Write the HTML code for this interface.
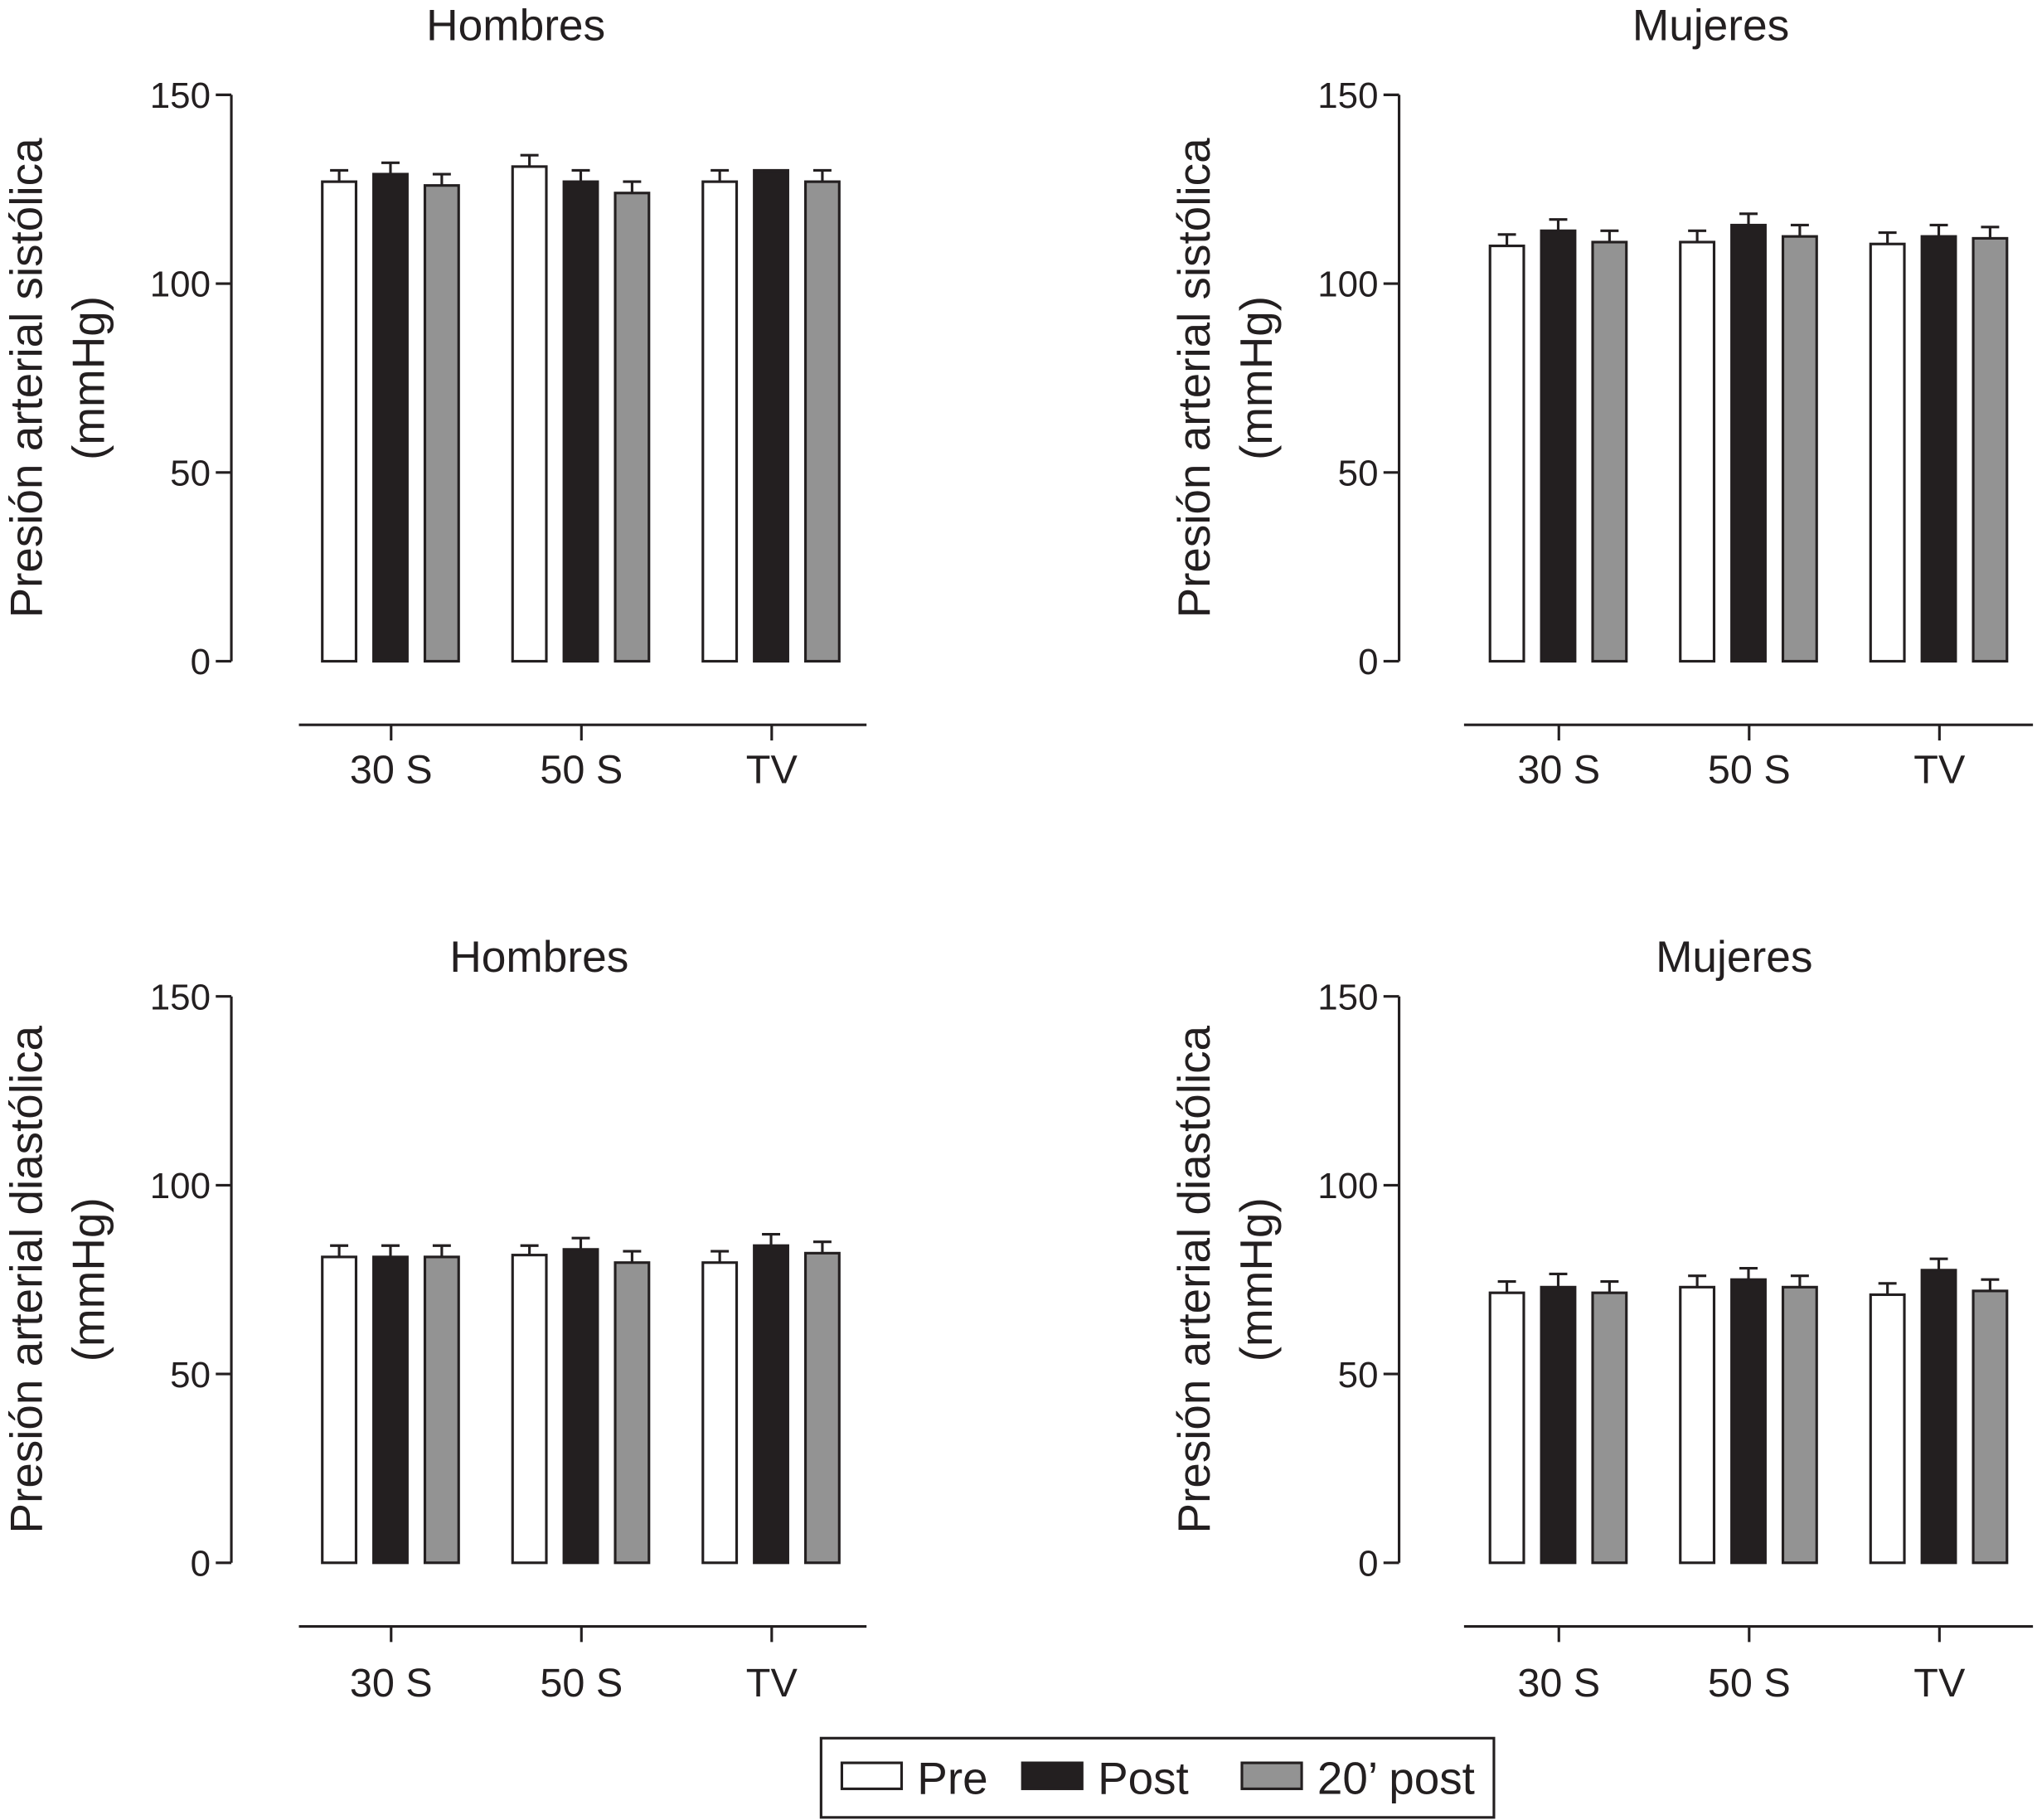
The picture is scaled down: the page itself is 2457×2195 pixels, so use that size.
<!DOCTYPE html>
<html><head><meta charset="utf-8"><style>
html,body{margin:0;padding:0;background:#fff}
svg{display:block}
text{font-family:"Liberation Sans",sans-serif;fill:#231f20}
</style></head><body>
<svg id="fig" width="2457" height="2195" viewBox="0 0 1568 1401" xmlns="http://www.w3.org/2000/svg"></svg>
<script>
const categories = ["30 S","50 S","TV"];
const seriesNames = ["Pre","Post","20’ post"];
const yTicks = [0,50,100,150];
const sysMenPre = [127,131,127], sysMenPost = [129,127,130], sysMen20 = [126,124,127];
const sysMenPreErr = [3,3,3], sysMenPostErr = [3,3,0], sysMen20Err = [3,3,3];
const sysWomPre = [110,111,110.5], sysWomPost = [114,115.5,112.5], sysWom20 = [111,112.5,112];
const sysWomPreErr = [3,3,3], sysWomPostErr = [3,3,3], sysWom20Err = [3,3,3];
const diaMenPre = [81,81.5,79.5], diaMenPost = [81,83,84], diaMen20 = [81,79.5,82];
const diaMenPreErr = [3,2.5,3], diaMenPostErr = [3,3,3], diaMen20Err = [3,3,3];
const diaWomPre = [71.5,73,71], diaWomPost = [73,75,77.5], diaWom20 = [71.5,73,72];
const diaWomPreErr = [3,3,3], diaWomPostErr = [3.5,3,3], diaWom20Err = [3,3,3];

const NS="http://www.w3.org/2000/svg";
const svg=document.getElementById('fig');
const fills=["#ffffff","#231f20","#939393"];
function el(tag,attrs,parent){const e=document.createElementNS(NS,tag);for(const k in attrs)e.setAttribute(k,attrs[k]);(parent||svg).appendChild(e);return e;}

const panels=[
 {name:"systolic-men",title:"Hombres",tx:397,ty:20,ax:178,y0:509,bx1:230,bx2:667,lo:45,l1:"Presión arterial sistólica",vals:[sysMenPre,sysMenPost,sysMen20],errs:[sysMenPreErr,sysMenPostErr,sysMen20Err]},
 {name:"systolic-women",title:"Mujeres",tx:1317,ty:20,ax:1077,y0:509,bx1:1127,bx2:1565,lo:45,l1:"Presión arterial sistólica",vals:[sysWomPre,sysWomPost,sysWom20],errs:[sysWomPreErr,sysWomPostErr,sysWom20Err]},
 {name:"diastolic-men",title:"Hombres",tx:415,ty:737,ax:178,y0:1203,bx1:230,bx2:667,lo:54,l1:"Presión arterial diastólica",vals:[diaMenPre,diaMenPost,diaMen20],errs:[diaMenPreErr,diaMenPostErr,diaMen20Err]},
 {name:"diastolic-women",title:"Mujeres",tx:1335,ty:737,ax:1077,y0:1203,bx1:1127,bx2:1565,lo:54,l1:"Presión arterial diastólica",vals:[diaWomPre,diaWomPost,diaWom20],errs:[diaWomPreErr,diaWomPostErr,diaWom20Err]}
];
panels.forEach(p=>{
 const g=el('g',{});
 
 
 const k=436/150;
 const y=v=>p.y0-v*k;
 const t=el('text',{x:p.tx,y:p.ty+11,'text-anchor':'middle','font-size':34},g);t.textContent=p.title;
 
 el('line',{x1:p.ax,y1:y(150),x2:p.ax,y2:p.y0,stroke:'#231f20','stroke-width':2},g);
 yTicks.forEach(v=>{
  el('line',{x1:p.ax-12,y1:y(v),x2:p.ax,y2:y(v),stroke:'#231f20','stroke-width':2},g);
  const tl=el('text',{x:p.ax-16,y:y(v)+10,'text-anchor':'end','font-size':28},g);tl.textContent=v;
  
 });
 const cy=(p.y0+y(150))/2;
 const yl=el('text',{transform:`translate(${p.ax-146},${cy}) rotate(-90)`,'text-anchor':'middle','font-size':35},g);
 
 const t1=el('tspan',{x:0,y:0},yl);t1.textContent=p.l1;
 const t2=el('tspan',{x:0,y:48},yl);t2.textContent='(mmHg)';
 const xa=p.y0+49;
 el('line',{x1:p.bx1,y1:xa,x2:p.bx2,y2:xa,stroke:'#231f20','stroke-width':2},g);
 categories.forEach((c,i)=>{
  const cx=p.ax+123+i*146.5;
  el('line',{x1:cx,y1:xa,x2:cx,y2:xa+12,stroke:'#231f20','stroke-width':2},g);
  const xl=el('text',{x:cx,y:xa+p.lo,'text-anchor':'middle','font-size':31},g);xl.textContent=c;
  
  for(let s=0;s<3;s++){
   const v=p.vals[s][i],e=p.errs[s][i];
   const x0=cx-53+s*39.5;
   if(e>0){
    el('line',{x1:x0+13,y1:y(v),x2:x0+13,y2:y(v+e),stroke:'#231f20','stroke-width':2},g);
    el('line',{x1:x0+6,y1:y(v+e),x2:x0+20,y2:y(v+e),stroke:'#231f20','stroke-width':2},g);
   }
   const r=el('rect',{x:x0,y:y(v),width:26,height:v*k,fill:fills[s],stroke:'#231f20','stroke-width':2},g);
   
   
  }
 });
});
// legend
const lg=el('g',{});


el('rect',{x:632,y:1338,width:518,height:61,fill:'#fff',stroke:'#231f20','stroke-width':2},lg);
const lx=[[648,706],[787,845],[956,1014]];
seriesNames.forEach((n,i)=>{
 const sw=el('rect',{x:lx[i][0],y:1357,width:46,height:20,fill:fills[i],stroke:'#231f20','stroke-width':2},lg);
 
 const tx=el('text',{x:lx[i][1],y:1381,'font-size':35},lg);tx.textContent=n;
 
});
</script>
</body></html>
